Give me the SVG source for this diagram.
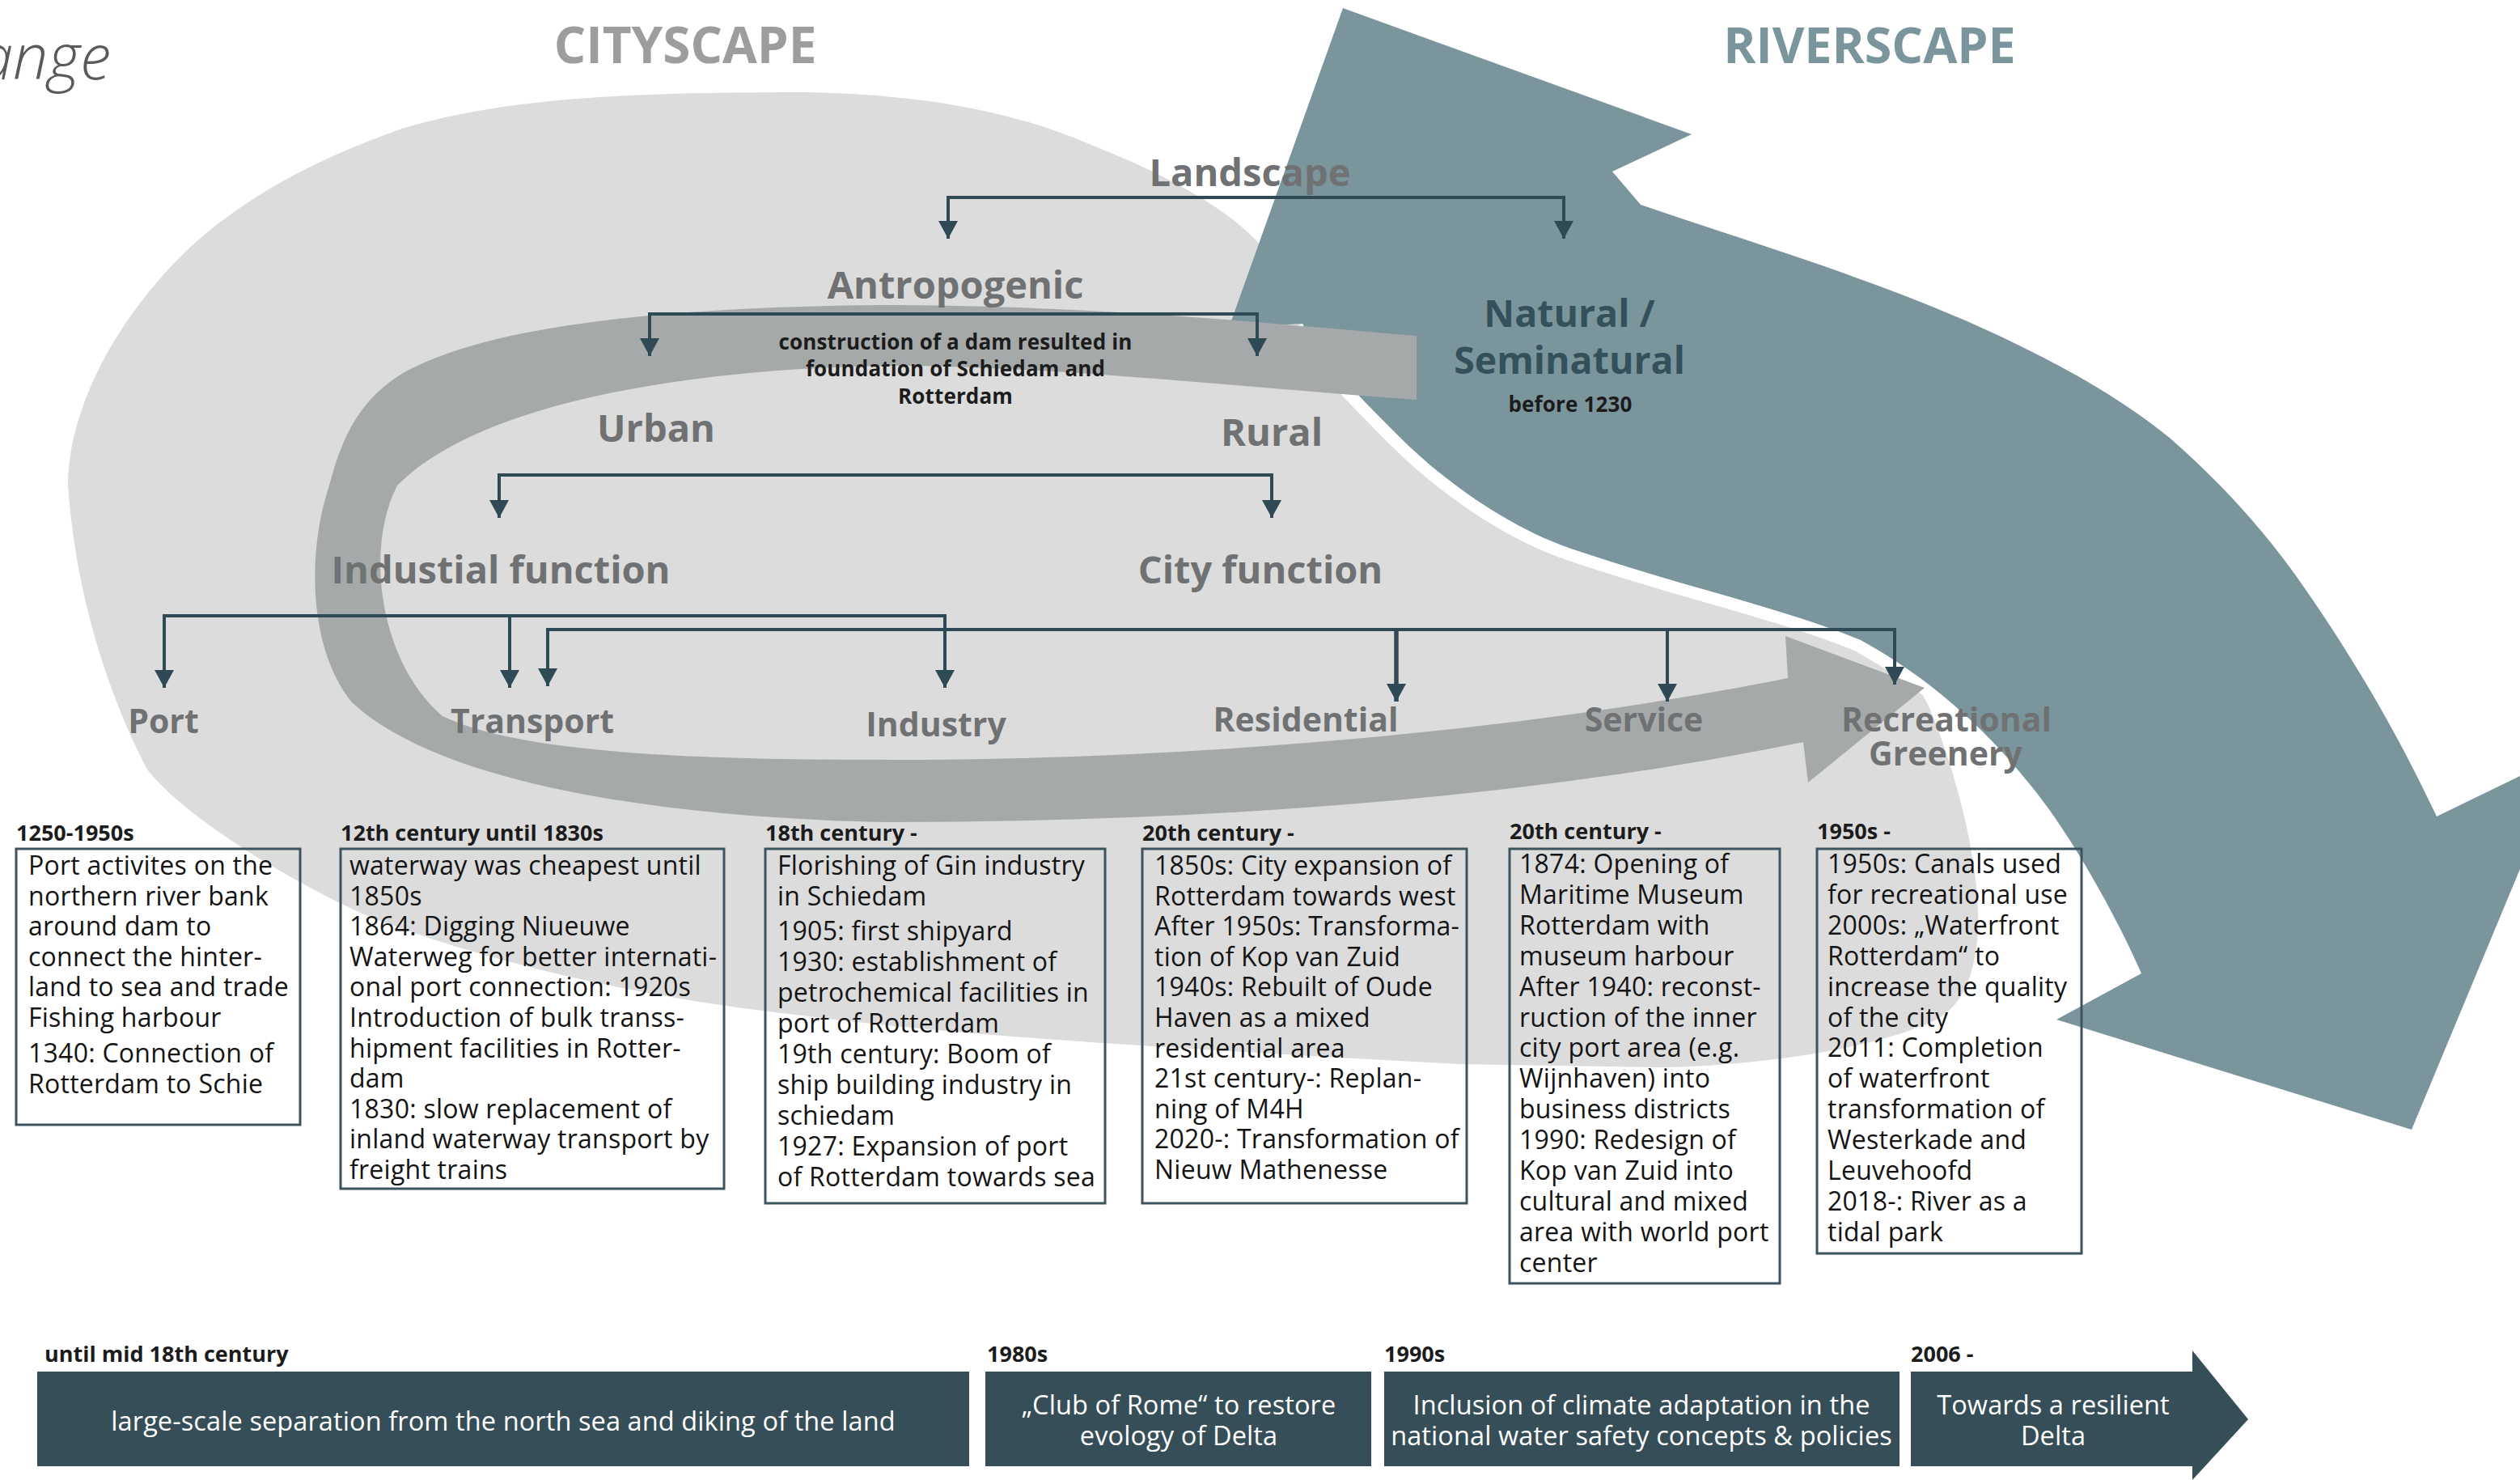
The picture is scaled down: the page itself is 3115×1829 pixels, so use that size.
<svg xmlns="http://www.w3.org/2000/svg" width="3115" height="1829" viewBox="0 0 3115 1829">
<style>
.lbl{font-family:"Open Sans","Noto Sans",sans-serif;font-weight:700;fill:#6f7173;text-anchor:middle}
.l1{font-size:47px}
.l3{font-size:41px}
.nat{font-family:"Open Sans","Noto Sans",sans-serif;font-weight:700;fill:#34505b;text-anchor:middle;font-size:46.5px}
.note{font-family:"Open Sans","Noto Sans",sans-serif;font-weight:700;fill:#1c1c1c;text-anchor:middle;font-size:26px;letter-spacing:0.15px}
.hdr{font-family:"Open Sans","Noto Sans",sans-serif;font-weight:700;fill:#1c1c1c;font-size:27px}
.bt{font-family:"Open Sans","Noto Sans",sans-serif;font-weight:400;fill:#141414;font-size:32px;letter-spacing:0.25px}
.box{fill:none;stroke:#3c545e;stroke-width:3}
.tl{fill:#354e58}
.tlt{font-family:"Open Sans","Noto Sans",sans-serif;font-weight:400;fill:#ffffff;font-size:32.5px;letter-spacing:0.1px;text-anchor:middle}
.con{fill:none;stroke:#2f4a55;stroke-width:4}
</style>
<defs>
<marker id="ah" markerUnits="userSpaceOnUse" markerWidth="26" markerHeight="24" refX="22" refY="12" orient="auto">
<path d="M0,0 L22,12 L0,24 Z" fill="#2f4a55"/>
</marker>
</defs>

<g id="background-shapes">
<path id="cityscape-blob" fill="#dcdcdd" d="M 1000,114 C 1150,117 1260,140 1351,180 C 1440,215 1520,258 1561,306 C 1585,340 1600,372 1610,400 C 1630,440 1680,490 1730,540 C 1780,590 1860,650 1942,678 C 2080,725 2200,750 2300,791 C 2340,808 2375,840 2395,900 C 2425,980 2448,1080 2445,1150 C 2440,1230 2410,1258 2374,1268 C 2300,1300 2150,1318 2055,1319 L 1800,1315 C 1500,1298 1200,1282 1000,1256 C 800,1235 600,1190 450,1130 C 330,1075 220,1000 182,951 C 140,870 95,750 84,600 C 84,480 180,340 281,268 C 360,210 440,180 491,161 C 620,120 780,114 1000,114 Z"/>
<path id="gap" fill="none" stroke="#ffffff" stroke-width="30" d="M 1610,400 C 1630,440 1680,490 1730,540 C 1780,590 1860,650 1942,678 C 2080,725 2200,750 2300,791 C 2380,835 2450,895 2508,968"/>
<path id="riverscape-arrow" fill="#7b959c" d="M 1660,10 L 2091,166 L 1993,212 L 2028,253 C 2150,295 2300,340 2427,395 C 2530,440 2620,490 2683,542 C 2760,610 2810,670 2853,733 C 2920,830 2970,920 3012,1009 L 3175,930 L 2981,1396 L 2542,1260 L 2647,1203 C 2620,1140 2560,1030 2508,968 C 2450,895 2380,835 2300,791 C 2200,750 2080,725 1942,678 C 1860,650 1780,590 1730,540 C 1680,490 1630,440 1610,400 L 1519,405 Z"/>
<path id="loop-arrow" fill="#a6a9aa" d="M 1751,415 L 1751,494 C 1550,480 1300,452 1100,452 C 880,455 600,490 491,600 C 450,680 470,820 547,885 C 640,930 850,939 1100,939 C 1500,939 1900,900 2210,838 L 2207,786 L 2379,850 L 2235,967 L 2229,917 C 1900,985 1500,1016 1100,1016 C 850,1012 550,975 435,868 C 380,800 380,680 407,600 C 425,530 450,490 500,460 C 600,405 800,380 1084,377 C 1350,377 1550,398 1751,415 Z"/>
</g>

<g id="titles">
<text x="137" y="98" font-family="'Open Sans','Noto Sans',sans-serif" font-style="italic" font-weight="300" font-size="77" fill="#5a5a5a" text-anchor="end">ange</text>
<text x="847" y="78" font-family="'Open Sans','Noto Sans',sans-serif" font-weight="700" font-size="62" fill="#9b9d9f" text-anchor="middle">CITYSCAPE</text>
<text x="2311" y="78" font-family="'Open Sans','Noto Sans',sans-serif" font-weight="700" font-size="61" fill="#7b959c" text-anchor="middle">RIVERSCAPE</text>
</g>

<g id="connectors">
<path class="con" d="M 1552,244 H 1172 V 295" marker-end="url(#ah)"/>
<path class="con" d="M 1552,244 H 1933 V 295" marker-end="url(#ah)"/>
<path class="con" d="M 1180,388 H 803 V 440" marker-end="url(#ah)"/>
<path class="con" d="M 1180,388 H 1554 V 440" marker-end="url(#ah)"/>
<path class="con" d="M 1000,587 H 617 V 640" marker-end="url(#ah)"/>
<path class="con" d="M 1000,587 H 1572 V 640" marker-end="url(#ah)"/>
<path class="con" d="M 630,761 H 203 V 850" marker-end="url(#ah)"/>
<path class="con" d="M 630,761 V 850" marker-end="url(#ah)"/>
<path class="con" d="M 630,761 H 1168 V 850" marker-end="url(#ah)"/>
<path class="con" d="M 1200,778 H 677 V 848" marker-end="url(#ah)"/>
<path class="con" d="M 1200,778 H 2342 V 846" marker-end="url(#ah)"/>
<path class="con" style="stroke-width:5.5" d="M 1726,778 V 867" marker-end="url(#ah)"/>
<path class="con" d="M 2061,778 V 867" marker-end="url(#ah)"/>
</g>

<g id="node-landscape"><text class="lbl l1" x="1545" y="230">Landscape</text></g>
<g id="node-antropogenic">
<text class="lbl l1" x="1181" y="369">Antropogenic</text>
<text class="note" x="1181" y="432">construction of a dam resulted in</text>
<text class="note" x="1181" y="465">foundation of Schiedam and</text>
<text class="note" x="1181" y="499">Rotterdam</text>
</g>
<g id="node-natural">
<text class="nat" x="1940" y="404">Natural /</text>
<text class="nat" x="1940" y="462">Seminatural</text>
<text class="note" x="1941" y="509">before 1230</text>
</g>
<g id="node-urban"><text class="lbl l1" x="811" y="546">Urban</text></g>
<g id="node-rural"><text class="lbl l1" x="1572" y="551">Rural</text></g>
<g id="node-industrial"><text class="lbl l1" x="619" y="721">Industial function</text></g>
<g id="node-city"><text class="lbl l1" x="1558" y="721">City function</text></g>
<g id="node-port"><text class="lbl l3" x="202" y="906">Port</text></g>
<g id="node-transport"><text class="lbl l3" x="658" y="906">Transport</text></g>
<g id="node-industry"><text class="lbl l3" x="1157" y="910">Industry</text></g>
<g id="node-residential"><text class="lbl l3" x="1614" y="904">Residential</text></g>
<g id="node-service"><text class="lbl l3" x="2032" y="904">Service</text></g>
<g id="node-recreational">
<text class="lbl l3" x="2406" y="904">Recreational</text>
<text class="lbl l3" x="2405" y="946">Greenery</text>
</g>

<g id="box-port">
<text class="hdr" x="20" y="1039">1250-1950s</text>
<rect class="box" x="20" y="1049" width="351" height="341"/>
<text class="bt" x="35" y="1081">Port activites on the</text>
<text class="bt" x="35" y="1118.6">northern river bank</text>
<text class="bt" x="35" y="1156.2">around dam to</text>
<text class="bt" x="35" y="1193.8">connect the hinter-</text>
<text class="bt" x="35" y="1231.4">land to sea and trade</text>
<text class="bt" x="35" y="1269">Fishing harbour</text>
<text class="bt" x="35" y="1313">1340: Connection of</text>
<text class="bt" x="35" y="1351">Rotterdam to Schie</text>
</g>

<g id="box-transport">
<text class="hdr" x="421" y="1039">12th century until 1830s</text>
<rect class="box" x="421" y="1049" width="474" height="420"/>
<text class="bt" x="432" y="1081">waterway was cheapest until</text>
<text class="bt" x="432" y="1118.6">1850s</text>
<text class="bt" x="432" y="1156.2">1864: Digging Niueuwe</text>
<text class="bt" x="432" y="1193.8">Waterweg for better internati-</text>
<text class="bt" x="432" y="1231.4">onal port connection: 1920s</text>
<text class="bt" x="432" y="1269">Introduction of bulk transs-</text>
<text class="bt" x="432" y="1306.6">hipment facilities in Rotter-</text>
<text class="bt" x="432" y="1344.2">dam</text>
<text class="bt" x="432" y="1381.8">1830: slow replacement of</text>
<text class="bt" x="432" y="1419.4">inland waterway transport by</text>
<text class="bt" x="432" y="1457">freight trains</text>
</g>

<g id="box-industry">
<text class="hdr" x="946" y="1039">18th century -</text>
<rect class="box" x="946" y="1049" width="420" height="438"/>
<text class="bt" x="961" y="1081">Florishing of Gin industry</text>
<text class="bt" x="961" y="1118.6">in Schiedam</text>
<text class="bt" x="961" y="1162">1905: first shipyard</text>
<text class="bt" x="961" y="1200">1930: establishment of</text>
<text class="bt" x="961" y="1238">petrochemical facilities in</text>
<text class="bt" x="961" y="1276">port of Rotterdam</text>
<text class="bt" x="961" y="1314">19th century: Boom of</text>
<text class="bt" x="961" y="1352">ship building industry in</text>
<text class="bt" x="961" y="1390">schiedam</text>
<text class="bt" x="961" y="1428">1927: Expansion of port</text>
<text class="bt" x="961" y="1466">of Rotterdam towards sea</text>
</g>

<g id="box-residential">
<text class="hdr" x="1412" y="1039">20th century -</text>
<rect class="box" x="1412" y="1049" width="401" height="438"/>
<text class="bt" x="1427" y="1081">1850s: City expansion of</text>
<text class="bt" x="1427" y="1118.6">Rotterdam towards west</text>
<text class="bt" x="1427" y="1156.2">After 1950s: Transforma-</text>
<text class="bt" x="1427" y="1193.8">tion of Kop van Zuid</text>
<text class="bt" x="1427" y="1231.4">1940s: Rebuilt of Oude</text>
<text class="bt" x="1427" y="1269">Haven as a mixed</text>
<text class="bt" x="1427" y="1306.6">residential area</text>
<text class="bt" x="1427" y="1344.2">21st century-: Replan-</text>
<text class="bt" x="1427" y="1381.8">ning of M4H</text>
<text class="bt" x="1427" y="1419.4">2020-: Transformation of</text>
<text class="bt" x="1427" y="1457">Nieuw Mathenesse</text>
</g>

<g id="box-service">
<text class="hdr" x="1866" y="1037">20th century -</text>
<rect class="box" x="1866" y="1049" width="334" height="537"/>
<text class="bt" x="1878" y="1079">1874: Opening of</text>
<text class="bt" x="1878" y="1116.9">Maritime Museum</text>
<text class="bt" x="1878" y="1154.8">Rotterdam with</text>
<text class="bt" x="1878" y="1192.7">museum harbour</text>
<text class="bt" x="1878" y="1230.6">After 1940: reconst-</text>
<text class="bt" x="1878" y="1268.5">ruction of the inner</text>
<text class="bt" x="1878" y="1306.4">city port area (e.g.</text>
<text class="bt" x="1878" y="1344.3">Wijnhaven) into</text>
<text class="bt" x="1878" y="1382.2">business districts</text>
<text class="bt" x="1878" y="1420.1">1990: Redesign of</text>
<text class="bt" x="1878" y="1458">Kop van Zuid into</text>
<text class="bt" x="1878" y="1495.9">cultural and mixed</text>
<text class="bt" x="1878" y="1533.8">area with world port</text>
<text class="bt" x="1878" y="1571.7">center</text>
</g>

<g id="box-recreational">
<text class="hdr" x="2246" y="1037">1950s -</text>
<rect class="box" x="2246" y="1049" width="327" height="500"/>
<text class="bt" x="2259" y="1079">1950s: Canals used</text>
<text class="bt" x="2259" y="1116.9">for recreational use</text>
<text class="bt" x="2259" y="1154.8">2000s: „Waterfront</text>
<text class="bt" x="2259" y="1192.7">Rotterdam“ to</text>
<text class="bt" x="2259" y="1230.6">increase the quality</text>
<text class="bt" x="2259" y="1268.5">of the city</text>
<text class="bt" x="2259" y="1306.4">2011: Completion</text>
<text class="bt" x="2259" y="1344.3">of waterfront</text>
<text class="bt" x="2259" y="1382.2">transformation of</text>
<text class="bt" x="2259" y="1420.1">Westerkade and</text>
<text class="bt" x="2259" y="1458">Leuvehoofd</text>
<text class="bt" x="2259" y="1495.9">2018-: River as a</text>
<text class="bt" x="2259" y="1533.8">tidal park</text>
</g>

<g id="timeline-1">
<text class="hdr" x="55" y="1683">until mid 18th century</text>
<rect class="tl" x="46" y="1695" width="1152" height="117"/>
<text class="tlt" x="622" y="1768">large-scale separation from the north sea and diking of the land</text>
</g>
<g id="timeline-2">
<text class="hdr" x="1220" y="1683">1980s</text>
<rect class="tl" x="1218" y="1695" width="477" height="117"/>
<text class="tlt" x="1457" y="1748">„Club of Rome“ to restore</text>
<text class="tlt" x="1457" y="1786">evology of Delta</text>
</g>
<g id="timeline-3">
<text class="hdr" x="1711" y="1683">1990s</text>
<rect class="tl" x="1711" y="1695" width="637" height="117"/>
<text class="tlt" x="2029" y="1748">Inclusion of climate adaptation in the</text>
<text class="tlt" x="2029" y="1786">national water safety concepts &amp; policies</text>
</g>
<g id="timeline-4">
<text class="hdr" x="2362" y="1683">2006 -</text>
<path class="tl" d="M 2362,1695 L 2710,1695 L 2710,1669 L 2779,1754 L 2710,1829 L 2710,1812 L 2362,1812 Z"/>
<text class="tlt" x="2538" y="1748">Towards a resilient</text>
<text class="tlt" x="2538" y="1786">Delta</text>
</g>
</svg>
